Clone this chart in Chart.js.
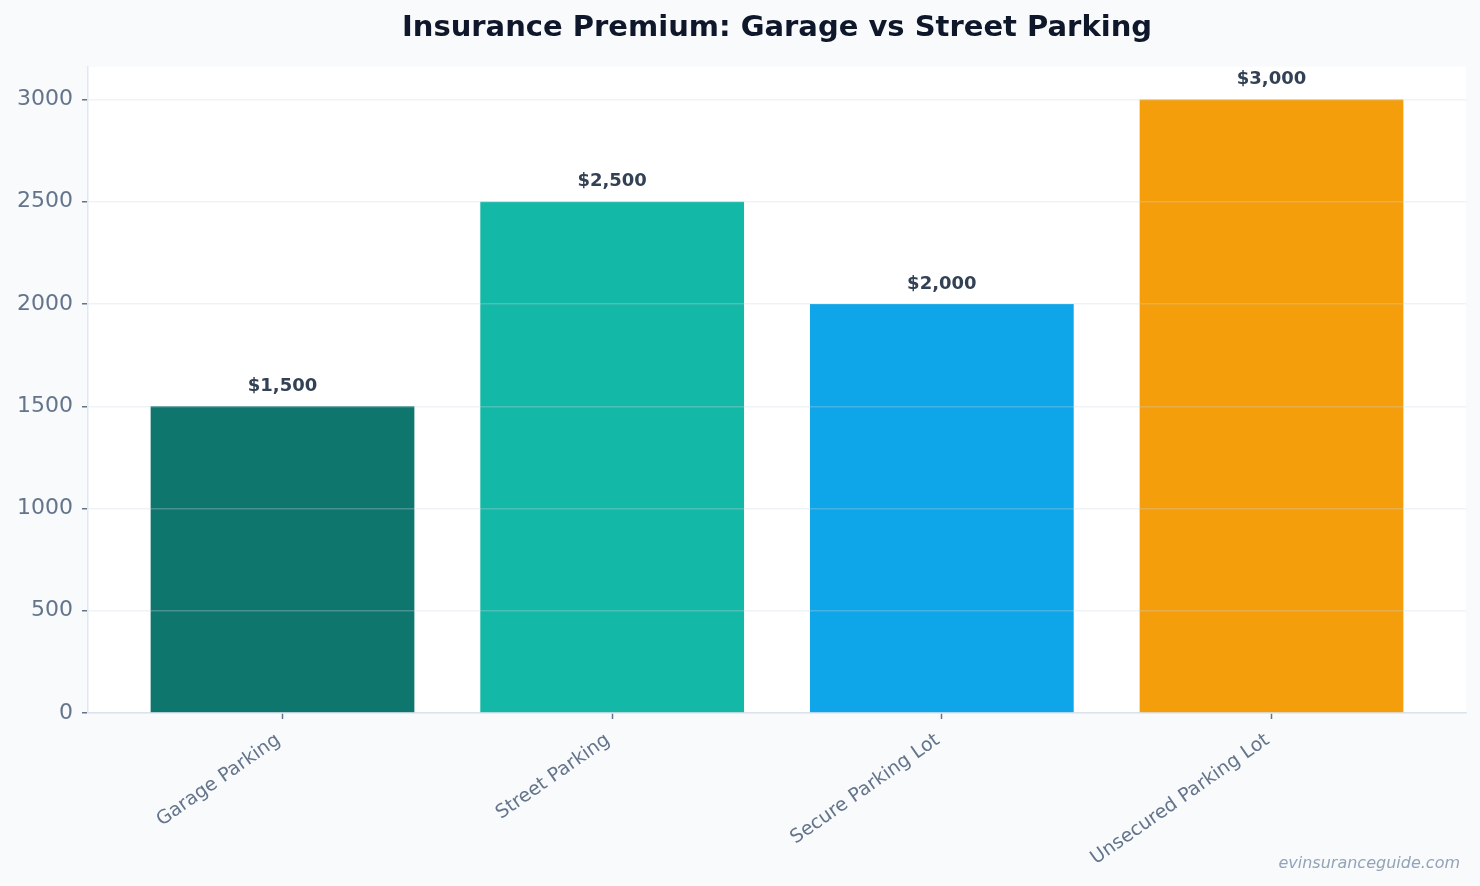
<!DOCTYPE html>
<html>
<head>
<meta charset="utf-8">
<script src="https://cdn.jsdelivr.net/npm/chart.js@4.4.1/dist/chart.umd.min.js"></script>
<style>
  html, body { margin: 0; padding: 0; background: #f8fafc; }
  #wrap { width: 1480px; height: 886px; }
</style>
</head>
<body>
<div id="wrap"><canvas id="myChart" width="1480" height="886"></canvas></div>
<script>
const categories = ['Garage Parking', 'Street Parking', 'Secure Parking Lot', 'Unsecured Parking Lot'];
const premiums = [1500, 2500, 2000, 3000];
const barColors = ['#0f766e', '#14b8a6', '#0ea5e9', '#f59e0b'];
const yTicks = [0, 500, 1000, 1500, 2000, 2500, 3000];

const FONT = "'DejaVu Sans', sans-serif";

// white plot area behind the bars
const plotBg = {
    id: 'plotBg',
    beforeDraw(chart) {
        const a = chart.chartArea, c = chart.ctx;
        c.save();
        c.fillStyle = '#ffffff';
        c.fillRect(a.left, a.top, a.right - a.left, a.bottom - a.top);
        c.restore();
    }
};

// value labels above bars + watermark
const barLabels = {
    id: 'barLabels',
    afterDraw(chart) {
        const c = chart.ctx;
        c.save();
        c.font = 'bold 18px ' + FONT;
        c.fillStyle = '#334155';
        c.textAlign = 'center';
        c.textBaseline = 'bottom';
        chart.getDatasetMeta(0).data.forEach((bar, i) => {
            c.fillText('$' + premiums[i].toLocaleString('en-US'), bar.x, bar.y - 11);
        });
        c.font = 'italic 16px ' + FONT;
        c.fillStyle = '#94a3b8';
        c.textAlign = 'right';
        c.textBaseline = 'alphabetic';
        c.fillText('evinsuranceguide.com', 1460, 868);
        c.restore();
    }
};

new Chart(document.getElementById('myChart'), {
    type: 'bar',
    data: {
        datasets: [{
            data: premiums.map((v, i) => ({ x: i, y: v })),
            backgroundColor: barColors,
            borderWidth: 0,
            categoryPercentage: 0.8,
            barPercentage: 1.0
        }]
    },
    options: {
        responsive: false,
        animation: false,
        layout: { padding: { left: 0, right: 14, top: 0, bottom: 0 } },
        scales: {
            x: {
                type: 'linear',
                min: -0.59,
                max: 3.59,
                offset: false,
                afterBuildTicks: axis => { axis.ticks = categories.map((c, i) => ({ value: i })); },
                afterFit: axis => { axis.height = 173; },
                grid: {
                    display: true,
                    offset: false,
                    drawOnChartArea: false,
                    drawTicks: true,
                    tickLength: 6,
                    tickWidth: 1.5,
                    tickColor: '#64748b'
                },
                border: { display: true, color: '#e2e8f0', width: 1.5 },
                ticks: {
                    callback: v => categories[v],
                    minRotation: 35,
                    maxRotation: 35,
                    autoSkip: false,
                    padding: 10,
                    labelOffset: -4,
                    color: '#64748b',
                    font: { family: FONT, size: 19 }
                }
            },
            y: {
                min: 0,
                max: 3160,
                afterBuildTicks: axis => { axis.ticks = yTicks.map(v => ({ value: v })); },
                afterFit: axis => { axis.width = 88; },
                grid: {
                    z: 1,
                    color: 'rgba(203,213,225,0.3)',
                    lineWidth: 1.5,
                    drawTicks: true,
                    tickLength: 6,
                    tickColor: '#64748b',
                    tickWidth: 1.5
                },
                border: { display: true, z: 2, color: '#e2e8f0', width: 1.5 },
                ticks: {
                    callback: v => String(v),
                    padding: 9,
                    color: '#64748b',
                    font: { family: FONT, size: 22 }
                }
            }
        },
        plugins: {
            legend: { display: false },
            tooltip: { enabled: false },
            title: {
                display: true,
                text: 'Insurance Premium: Garage vs Street Parking',
                fullSize: false,
                color: '#0f172a',
                font: { family: FONT, size: 29, weight: 'bold' },
                padding: { top: 11, bottom: 21 }
            }
        }
    },
    plugins: [plotBg, barLabels]
});
</script>
</body>
</html>
